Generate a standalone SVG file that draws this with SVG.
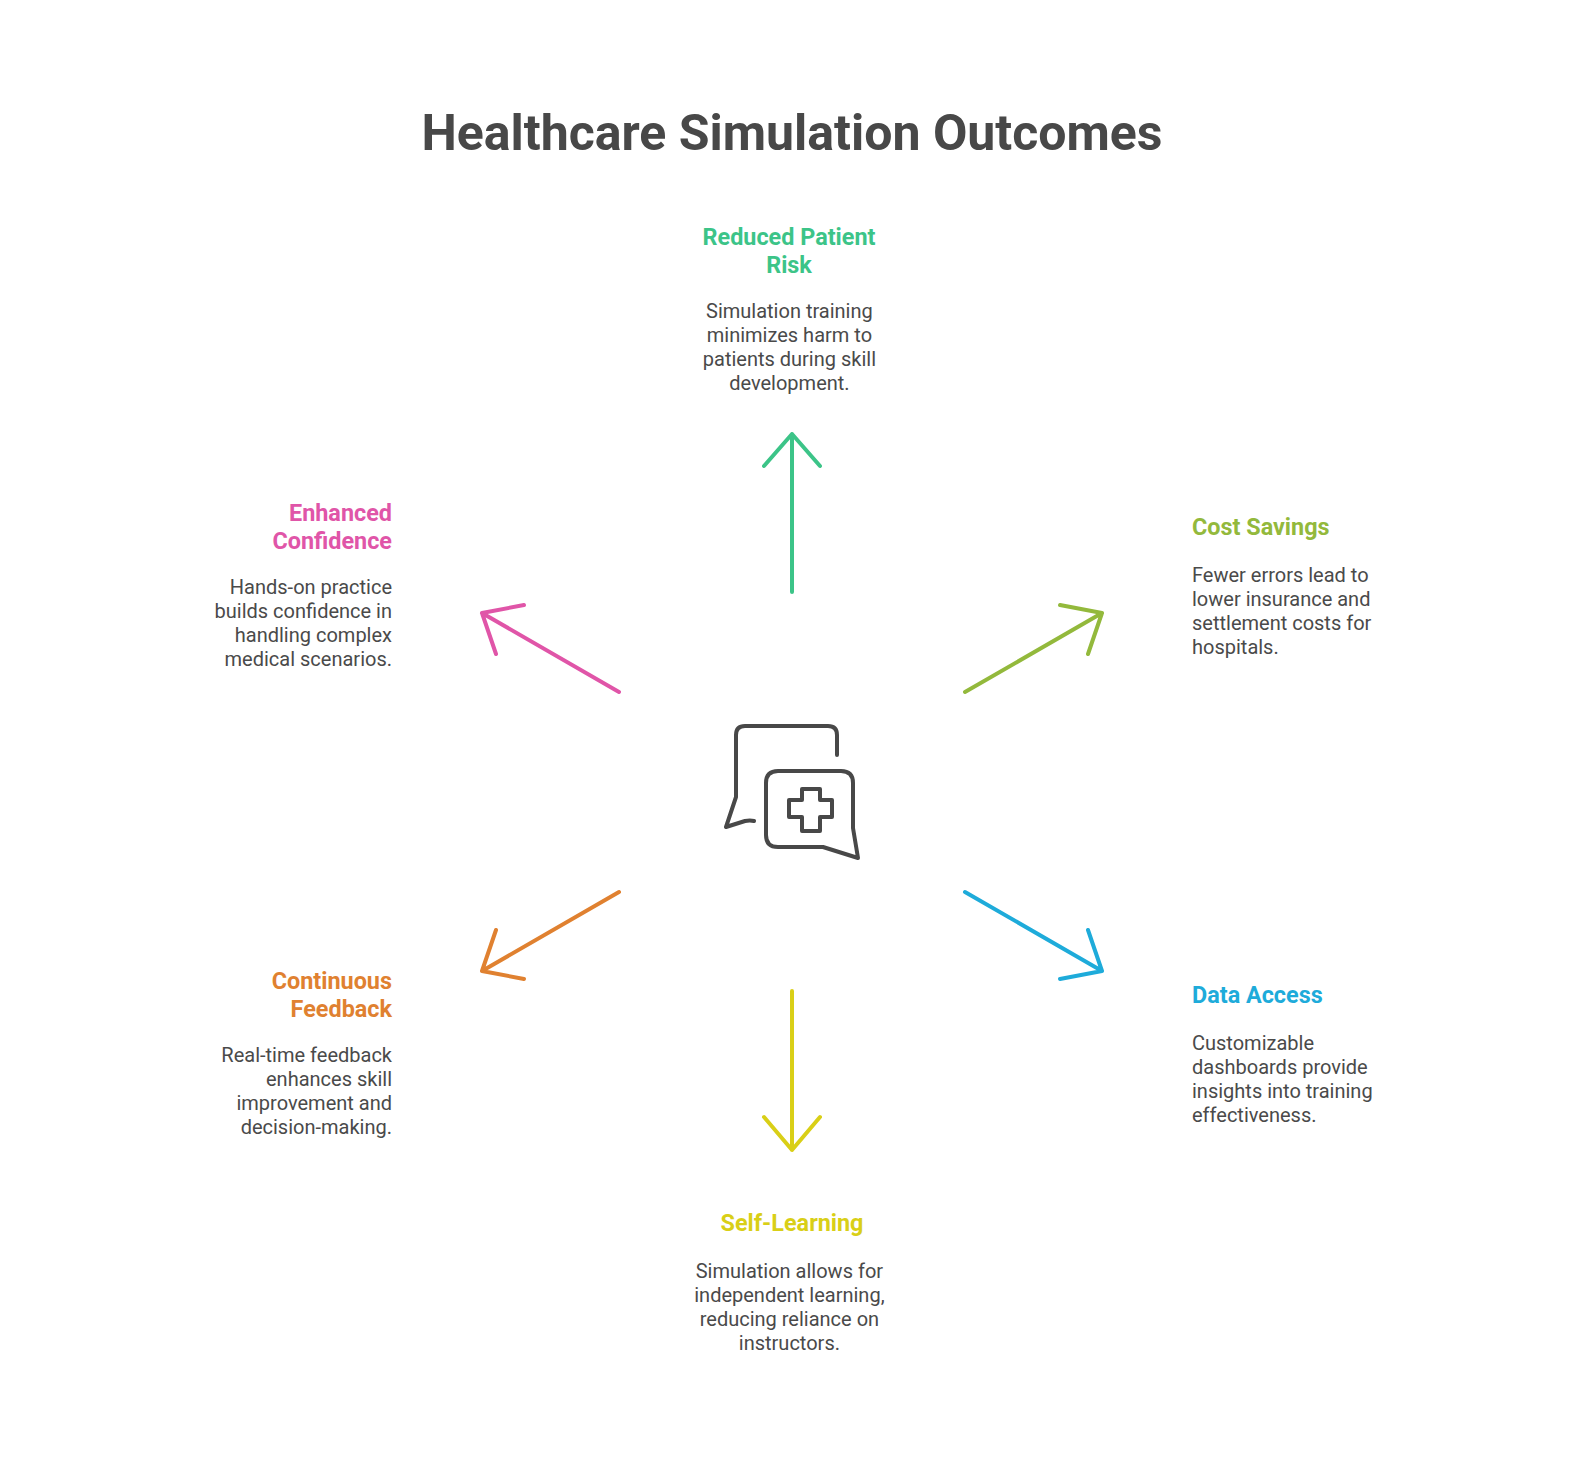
<svg xmlns="http://www.w3.org/2000/svg" width="1584" height="1464" viewBox="0 0 1584 1464">
<style>
text{font-family:Roboto,"Liberation Sans",sans-serif}
.t{font-size:50px;font-weight:700;fill:#484848;text-anchor:middle}
.h{font-size:23.4px;font-weight:700}
.b{font-size:20px;fill:#4a4a4a}
.m{text-anchor:middle}.e{text-anchor:end}.s{text-anchor:start}
.a{fill:none;stroke-width:4;stroke-linecap:round;stroke-linejoin:round}
.i{fill:none;stroke:#484848;stroke-width:4;stroke-linecap:round;stroke-linejoin:round}
.g{fill:#3cc488}.l{fill:#93b93c}.c{fill:#1eabda}.y{fill:#d9cf17}.o{fill:#e08130}.p{fill:#e055a8}
</style>
<rect width="1584" height="1464" fill="#fff"/>
<text class="t" x="792" y="150">Healthcare Simulation Outcomes</text>
<g id="connectors">
<path class="a" stroke="#3cc488" d="M792 592V434M764 466L792 434L820 466"/>
<path class="a" stroke="#93b93c" d="M965 692L1102 613M1060 605L1102 613L1088 654"/>
<path class="a" stroke="#1eabda" d="M965 892L1102 971M1088 930L1102 971L1060 979"/>
<path class="a" stroke="#d9cf17" d="M792 991V1150M764 1117L792 1150L820 1117"/>
<path class="a" stroke="#e08130" d="M619 892L482 971M496 930L482 971L524 979"/>
<path class="a" stroke="#e055a8" d="M619 692L482 613M524 605L482 613L496 654"/>
</g>
<g id="center-icon">
<path class="i" d="M837 755V735Q837 726 828 726H745Q736 726 736 735V797L726 827L745 821Q750 820 754 821"/>
<path class="i" d="M766 783Q766 771 778 771H841Q853 771 853 783V828L858 858L823 847H778Q766 847 766 835Z"/>
<path class="i" d="M802 789H820V800H832V817H820V831H802V817H789V800H802Z"/>
</g>
<g id="reduced-patient-risk">
<text class="h g m" x="789" y="245">Reduced Patient</text>
<text class="h g m" x="789" y="273">Risk</text>
<text class="b m" x="789.4" y="318">Simulation training</text>
<text class="b m" x="789.4" y="342">minimizes harm to</text>
<text class="b m" x="789.4" y="366">patients during skill</text>
<text class="b m" x="789.4" y="390">development.</text>
</g>
<g id="cost-savings">
<text class="h l s" x="1192" y="535">Cost Savings</text>
<text class="b s" x="1192" y="582">Fewer errors lead to</text>
<text class="b s" x="1192" y="606">lower insurance and</text>
<text class="b s" x="1192" y="630">settlement costs for</text>
<text class="b s" x="1192" y="654">hospitals.</text>
</g>
<g id="data-access">
<text class="h c s" x="1192" y="1003">Data Access</text>
<text class="b s" x="1192" y="1050">Customizable</text>
<text class="b s" x="1192" y="1074">dashboards provide</text>
<text class="b s" x="1192" y="1098">insights into training</text>
<text class="b s" x="1192" y="1122">effectiveness.</text>
</g>
<g id="self-learning">
<text class="h y m" x="792" y="1231">Self-Learning</text>
<text class="b m" x="789.4" y="1278">Simulation allows for</text>
<text class="b m" x="789.4" y="1302">independent learning,</text>
<text class="b m" x="789.4" y="1326">reducing reliance on</text>
<text class="b m" x="789.4" y="1350">instructors.</text>
</g>
<g id="continuous-feedback">
<text class="h o e" x="392" y="989">Continuous</text>
<text class="h o e" x="392" y="1017">Feedback</text>
<text class="b e" x="392" y="1062">Real-time feedback</text>
<text class="b e" x="392" y="1086">enhances skill</text>
<text class="b e" x="392" y="1110">improvement and</text>
<text class="b e" x="392" y="1134">decision-making.</text>
</g>
<g id="enhanced-confidence">
<text class="h p e" x="392" y="521">Enhanced</text>
<text class="h p e" x="392" y="549">Confidence</text>
<text class="b e" x="392" y="594">Hands-on practice</text>
<text class="b e" x="392" y="618">builds confidence in</text>
<text class="b e" x="392" y="642">handling complex</text>
<text class="b e" x="392" y="666">medical scenarios.</text>
</g>
</svg>
